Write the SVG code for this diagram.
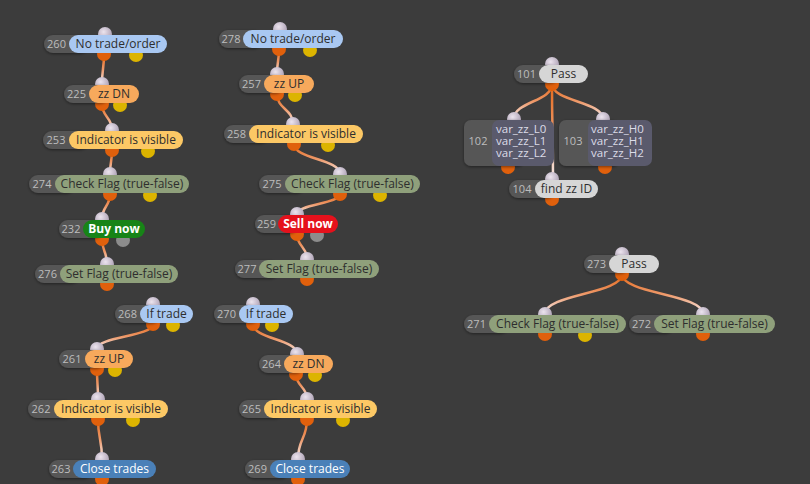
<svg xmlns="http://www.w3.org/2000/svg" width="810" height="484" viewBox="0 0 810 484">
<defs>
<linearGradient id="wire" x1="0" y1="0" x2="0" y2="1">
<stop offset="0" stop-color="#e4681a"/>
<stop offset="0.5" stop-color="#ee9868"/>
<stop offset="1" stop-color="#f6ecec"/>
</linearGradient>
<radialGradient id="pinG" cx="0.4" cy="0.35" r="0.7">
<stop offset="0" stop-color="#ece4ee"/>
<stop offset="1" stop-color="#a89cb0"/>
</radialGradient>
<filter id="sh" x="-20%" y="-40%" width="140%" height="180%">
<feDropShadow dx="0" dy="1" stdDeviation="1.6" flood-color="#000" flood-opacity="0.45"/>
</filter>
<style>
.w{fill:none;stroke:url(#wire);stroke-width:2.5}
.pin{fill:url(#pinG)}
.po{fill:#e0600c}
.py{fill:#dcb400}
.pg{fill:#8c8c8c}
.num{fill:#565656;filter:url(#sh)}
.nt{font-family:"Open Sans","Liberation Sans",sans-serif;font-size:11px;fill:#bdbdbd;text-anchor:middle}
.lt{font-family:"Open Sans","Liberation Sans",sans-serif;font-size:12px;fill:#2e2e2e;text-anchor:middle}
.lw{fill:#ffffff}
.lb{font-weight:bold;fill:#ffffff}
.vt{font-family:"Open Sans","Liberation Sans",sans-serif;font-size:11.5px;fill:#dcdce8}
.cb{fill:#a9c8f2}
.co{fill:#f7a95c}
.cy{fill:#fcc865}
.cg{fill:#8fa07b}
.cgr{fill:#178417}
.cr{fill:#e5111c}
.cbl{fill:#4a80b8}
.cl{fill:#d6d6d6}
.cv{fill:#5a5a6c}
</style>
</defs>
<rect width="810" height="484" fill="#3c3c3c"/>
<g id="connectors">
<path class="w" d="M104,54 C104,69 102,69 102,84"/>
<path class="w" d="M102,104 C102,117 112,117 112,130"/>
<path class="w" d="M112,150 C112,162 110,162 110,174"/>
<path class="w" d="M110,194 C110,206.5 102,206.5 102,219"/>
<path class="w" d="M102,239 C102,251.5 107,251.5 107,264"/>
<path class="w" d="M153,324 C153,336.5 97,336.5 97,349"/>
<path class="w" d="M97,369 C97,384 98,384 98,399"/>
<path class="w" d="M98,419 C98,439 102,439 102,459"/>
<path class="w" d="M279,49 C279,61.5 277,61.5 277,74"/>
<path class="w" d="M277,94 C277,109 293,109 293,124"/>
<path class="w" d="M294,144 C294,159 340,159 340,174"/>
<path class="w" d="M340,194 C340,204 297,204 297,214"/>
<path class="w" d="M297,234 C297,246.5 307,246.5 307,259"/>
<path class="w" d="M253,324 C253,339 297,339 297,354"/>
<path class="w" d="M296,374 C296,386.5 307,386.5 307,399"/>
<path class="w" d="M307,419 C307,439 298,439 298,459"/>
<path class="w" d="M552,84 C552,101.5 514,101.5 514,119"/>
<path class="w" d="M552,84 C552,101.5 603,101.5 603,119"/>
<path class="w" d="M552,84 C552,131 553,131 553,179"/>
<path class="w" d="M622,274 C622,294 545,294 545,314"/>
<path class="w" d="M622,274 C622,294 703,294 703,314"/>
</g>

<g id="n260">
<circle class="pin" cx="105" cy="34" r="7"/><circle class="po" cx="104" cy="54" r="7"/><circle class="py" cx="136" cy="55" r="7"/>
<rect class="num" x="44" y="35" width="45" height="18" rx="9"/><rect class="cb" x="69" y="35" width="98" height="18" rx="9"/>
<text class="nt" x="56.5" y="48">260</text><text class="lt" x="118" y="48">No trade/order</text>
</g>
<g id="n225">
<circle class="pin" cx="102" cy="84" r="7"/><circle class="po" cx="102" cy="104" r="7"/><circle class="py" cx="120" cy="105" r="7"/>
<rect class="num" x="64" y="85" width="45" height="18" rx="9"/><rect class="co" x="89" y="85" width="50" height="18" rx="9"/>
<text class="nt" x="76.5" y="98">225</text><text class="lt" x="114" y="98">zz DN</text>
</g>
<g id="n253">
<circle class="pin" cx="112" cy="130" r="7"/><circle class="po" cx="112" cy="150" r="7"/><circle class="py" cx="148" cy="151" r="7"/>
<rect class="num" x="43" y="131" width="46" height="18" rx="9"/><rect class="cy" x="69" y="131" width="114" height="18" rx="9"/>
<text class="nt" x="56" y="144">253</text><text class="lt" x="126" y="144">Indicator is visible</text>
</g>
<g id="n274">
<circle class="pin" cx="110" cy="174" r="7"/><circle class="po" cx="110" cy="194" r="7"/><circle class="py" cx="150" cy="195" r="7"/>
<rect class="num" x="29" y="175" width="46" height="18" rx="9"/><rect class="cg" x="55" y="175" width="134" height="18" rx="9"/>
<text class="nt" x="42" y="188">274</text><text class="lt" x="122" y="188">Check Flag (true-false)</text>
</g>
<g id="n232">
<circle class="pin" cx="102" cy="219" r="7"/><circle class="po" cx="102" cy="239" r="7"/><circle class="pg" cx="123" cy="240" r="7"/>
<rect class="num" x="59" y="220" width="44" height="18" rx="9"/><rect class="cgr" x="83" y="220" width="62" height="18" rx="9"/>
<text class="nt" x="71" y="233">232</text><text class="lt lb" x="114" y="233">Buy now</text>
</g>
<g id="n276">
<circle class="pin" cx="107" cy="264" r="7"/><circle class="po" cx="107" cy="284" r="7"/>
<rect class="num" x="35" y="265" width="45" height="18" rx="9"/><rect class="cg" x="60" y="265" width="118" height="18" rx="9"/>
<text class="nt" x="47.5" y="278">276</text><text class="lt" x="119" y="278">Set Flag (true-false)</text>
</g>
<g id="n268">
<circle class="pin" cx="153" cy="304" r="7"/><circle class="po" cx="153" cy="324" r="7"/><circle class="py" cx="173" cy="325" r="7"/>
<rect class="num" x="115" y="305" width="45" height="18" rx="9"/><rect class="cb" x="140" y="305" width="53" height="18" rx="9"/>
<text class="nt" x="127.5" y="318">268</text><text class="lt" x="166.5" y="318">If trade</text>
</g>
<g id="n261">
<circle class="pin" cx="97" cy="349" r="7"/><circle class="po" cx="97" cy="369" r="7"/><circle class="py" cx="115" cy="370" r="7"/>
<rect class="num" x="59" y="350" width="46" height="18" rx="9"/><rect class="co" x="85" y="350" width="48" height="18" rx="9"/>
<text class="nt" x="72" y="363">261</text><text class="lt" x="109" y="363">zz UP</text>
</g>
<g id="n262">
<circle class="pin" cx="98" cy="399" r="7"/><circle class="po" cx="98" cy="419" r="7"/><circle class="py" cx="133" cy="420" r="7"/>
<rect class="num" x="28" y="400" width="46" height="18" rx="9"/><rect class="cy" x="54" y="400" width="114" height="18" rx="9"/>
<text class="nt" x="41" y="413">262</text><text class="lt" x="111" y="413">Indicator is visible</text>
</g>
<g id="n263">
<circle class="pin" cx="102" cy="459" r="7"/><circle class="po" cx="102" cy="479" r="7"/>
<rect class="num" x="49" y="460" width="44" height="18" rx="9"/><rect class="cbl" x="73" y="460" width="83" height="18" rx="9"/>
<text class="nt" x="61" y="473">263</text><text class="lt lw" x="114.5" y="473">Close trades</text>
</g>

<g id="n278">
<circle class="pin" cx="280" cy="29" r="7"/><circle class="po" cx="279" cy="49" r="7"/><circle class="py" cx="310" cy="50" r="7"/>
<rect class="num" x="219" y="30" width="44" height="18" rx="9"/><rect class="cb" x="243" y="30" width="100" height="18" rx="9"/>
<text class="nt" x="231" y="43">278</text><text class="lt" x="293" y="43">No trade/order</text>
</g>
<g id="n257">
<circle class="pin" cx="277" cy="74" r="7"/><circle class="po" cx="277" cy="94" r="7"/><circle class="py" cx="295" cy="95" r="7"/>
<rect class="num" x="239" y="75" width="45" height="18" rx="9"/><rect class="co" x="264" y="75" width="50" height="18" rx="9"/>
<text class="nt" x="251.5" y="88">257</text><text class="lt" x="289" y="88">zz UP</text>
</g>
<g id="n258">
<circle class="pin" cx="293" cy="124" r="7"/><circle class="po" cx="294" cy="144" r="7"/><circle class="py" cx="328" cy="145" r="7"/>
<rect class="num" x="224" y="125" width="45" height="18" rx="9"/><rect class="cy" x="249" y="125" width="114" height="18" rx="9"/>
<text class="nt" x="236.5" y="138">258</text><text class="lt" x="306" y="138">Indicator is visible</text>
</g>
<g id="n275">
<circle class="pin" cx="340" cy="174" r="7"/><circle class="po" cx="340" cy="194" r="7"/><circle class="py" cx="380" cy="195" r="7"/>
<rect class="num" x="259" y="175" width="46" height="18" rx="9"/><rect class="cg" x="285" y="175" width="135" height="18" rx="9"/>
<text class="nt" x="272" y="188">275</text><text class="lt" x="352.5" y="188">Check Flag (true-false)</text>
</g>
<g id="n259">
<circle class="pin" cx="297" cy="214" r="7"/><circle class="po" cx="297" cy="234" r="7"/><circle class="pg" cx="317" cy="235" r="7"/>
<rect class="num" x="255" y="215" width="43" height="18" rx="9"/><rect class="cr" x="278" y="215" width="60" height="18" rx="9"/>
<text class="nt" x="266.5" y="228">259</text><text class="lt lb" x="308" y="228">Sell now</text>
</g>
<g id="n277">
<circle class="pin" cx="307" cy="259" r="7"/><circle class="po" cx="307" cy="279" r="7"/>
<rect class="num" x="235" y="260" width="44" height="18" rx="9"/><rect class="cg" x="259" y="260" width="120" height="18" rx="9"/>
<text class="nt" x="247" y="273">277</text><text class="lt" x="319" y="273">Set Flag (true-false)</text>
</g>
<g id="n270">
<circle class="pin" cx="253" cy="304" r="7"/><circle class="po" cx="253" cy="324" r="7"/><circle class="py" cx="272" cy="325" r="7"/>
<rect class="num" x="214" y="305" width="45" height="18" rx="9"/><rect class="cb" x="239" y="305" width="54" height="18" rx="9"/>
<text class="nt" x="226.5" y="318">270</text><text class="lt" x="266" y="318">If trade</text>
</g>
<g id="n264">
<circle class="pin" cx="297" cy="354" r="7"/><circle class="po" cx="296" cy="374" r="7"/><circle class="py" cx="315" cy="375" r="7"/>
<rect class="num" x="259" y="355" width="45" height="18" rx="9"/><rect class="co" x="284" y="355" width="49" height="18" rx="9"/>
<text class="nt" x="271.5" y="368">264</text><text class="lt" x="308.5" y="368">zz DN</text>
</g>
<g id="n265">
<circle class="pin" cx="307" cy="399" r="7"/><circle class="po" cx="307" cy="419" r="7"/><circle class="py" cx="343" cy="420" r="7"/>
<rect class="num" x="239" y="400" width="45" height="18" rx="9"/><rect class="cy" x="264" y="400" width="113" height="18" rx="9"/>
<text class="nt" x="251.5" y="413">265</text><text class="lt" x="320.5" y="413">Indicator is visible</text>
</g>
<g id="n269">
<circle class="pin" cx="298" cy="459" r="7"/><circle class="po" cx="298" cy="479" r="7"/>
<rect class="num" x="245" y="460" width="45" height="18" rx="9"/><rect class="cbl" x="270" y="460" width="80" height="18" rx="9"/>
<text class="nt" x="257.5" y="473">269</text><text class="lt lw" x="310" y="473">Close trades</text>
</g>

<g id="n101">
<circle class="pin" cx="552" cy="64" r="7"/><circle class="po" cx="552" cy="84" r="7"/>
<rect class="num" x="514" y="65" width="45" height="18" rx="9"/><rect class="cl" x="539" y="65" width="49" height="18" rx="9"/>
<text class="nt" x="526.5" y="78">101</text><text class="lt" x="563.5" y="78">Pass</text>
</g>
<g id="n102">
<circle class="pin" cx="514" cy="119" r="7"/><circle class="po" cx="508" cy="167" r="7"/>
<rect class="num" x="464" y="120" width="60" height="46" rx="7"/><rect class="cv" x="492" y="120" width="62" height="46" rx="7"/>
<text class="nt" x="478" y="145">102</text>
<text class="vt" x="496" y="133">var_zz_L0</text><text class="vt" x="496" y="145">var_zz_L1</text><text class="vt" x="496" y="157">var_zz_L2</text>
</g>
<g id="n103">
<circle class="pin" cx="603" cy="119" r="7"/><circle class="po" cx="605" cy="167" r="7"/>
<rect class="num" x="559" y="120" width="60" height="46" rx="7"/><rect class="cv" x="588" y="120" width="64" height="46" rx="7"/>
<text class="nt" x="573" y="145">103</text>
<text class="vt" x="591" y="133">var_zz_H0</text><text class="vt" x="591" y="145">var_zz_H1</text><text class="vt" x="591" y="157">var_zz_H2</text>
</g>
<g id="n104">
<circle class="pin" cx="552" cy="179" r="7"/><circle class="po" cx="552" cy="199" r="7"/>
<rect class="num" x="509" y="180" width="46" height="18" rx="9"/><rect class="cl" x="535" y="180" width="63" height="18" rx="9"/>
<text class="nt" x="522" y="193">104</text><text class="lt" x="566.5" y="193">find zz ID</text>
</g>
<g id="n273">
<circle class="pin" cx="622" cy="254" r="7"/><circle class="po" cx="622" cy="274" r="7"/>
<rect class="num" x="584" y="255" width="45" height="18" rx="9"/><rect class="cl" x="609" y="255" width="50" height="18" rx="9"/>
<text class="nt" x="596.5" y="268">273</text><text class="lt" x="634" y="268">Pass</text>
</g>
<g id="n271">
<circle class="pin" cx="545" cy="314" r="7"/><circle class="po" cx="545" cy="334" r="7"/><circle class="py" cx="585" cy="335" r="7"/>
<rect class="num" x="464" y="315" width="45" height="18" rx="9"/><rect class="cg" x="489" y="315" width="137" height="18" rx="9"/>
<text class="nt" x="476.5" y="328">271</text><text class="lt" x="557.5" y="328">Check Flag (true-false)</text>
</g>
<g id="n272">
<circle class="pin" cx="703" cy="314" r="7"/><circle class="po" cx="703" cy="334" r="7"/>
<rect class="num" x="629" y="315" width="45" height="18" rx="9"/><rect class="cg" x="654" y="315" width="121" height="18" rx="9"/>
<text class="nt" x="641.5" y="328">272</text><text class="lt" x="714.5" y="328">Set Flag (true-false)</text>
</g>
</svg>
